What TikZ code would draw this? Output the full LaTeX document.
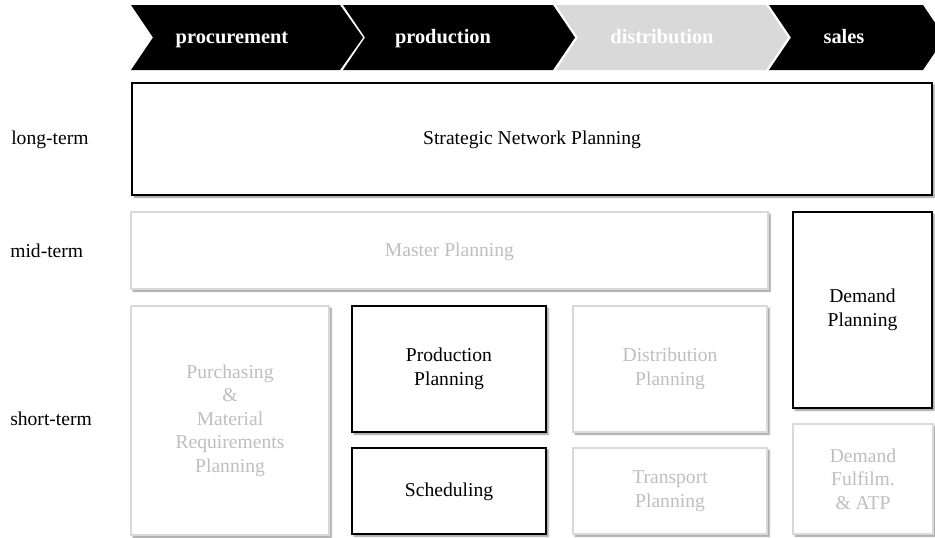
\documentclass[tikz,border=0pt]{standalone}
\usepackage{fontspec}
\setmainfont{Liberation Serif}
\usepackage{tikz}
\usetikzlibrary{shadows.blur}

\definecolor{lightline}{RGB}{217,217,217}
\definecolor{lighttext}{RGB}{191,191,191}

\begin{document}
\begin{tikzpicture}[x=0.75pt, y=-0.75pt,
        every node/.style={font=\fontsize{14.7}{17.6}\selectfont, align=center, inner sep=0pt},
        oneline/.style={text height=1.05em, text depth=0.22em},
        planbox/.style={draw=black, line width=0.9pt, fill=white, text=black,
            blur shadow={shadow xshift=1.6pt, shadow yshift=-1.6pt, shadow blur radius=1.4pt, shadow opacity=45}},
        greybox/.style={planbox, draw=lightline, line width=0.8pt, text=lighttext},
        phase/.style={oneline, text=white, font=\fontsize{15.3}{18}\selectfont\bfseries},
        termlabel/.style={oneline, anchor=west}]

            \useasboundingbox (0,0) rectangle (935,537);
            \clip (0,0) rectangle (935,537);

            \fill[black] (131,5) -- (340,5) -- (363,37.5) -- (340,70) -- (131,70) -- (153,37.5) -- cycle;
            \fill[black] (343,5) -- (553,5) -- (575,37.5) -- (553,70) -- (343,70) -- (365,37.5) -- cycle;
            \fill[lightline] (556,5) -- (766,5) -- (788,37.5) -- (766,70) -- (556,70) -- (578,37.5) -- cycle;
            \fill[black] (769,5) -- (923,5) -- (945,37.5) -- (923,70) -- (769,70) -- (791,37.5) -- cycle;

            \node[phase] (proc) at (232,37.5) {procurement};
            \node[phase] (prod) at (443,37.5) {production};
            \node[phase] (dist) at (662,37.5) {distribution};
            \node[phase] (sales) at (844,37.5) {sales};

            \node[termlabel] (long) at (11,139) {long-term};
            \node[termlabel] (mid) at (10,252) {mid-term};
            \node[termlabel] (short) at (10,420) {short-term};

            \node[planbox, oneline, minimum width=600pt, minimum height=84pt] (snp) at (532,139) {Strategic Network Planning};
            \node[greybox, oneline, minimum width=477.75pt, minimum height=57.75pt] (mp) at (449.5,250.5) {Master Planning};
            \node[planbox, minimum width=104.25pt, minimum height=147pt] (dp) at (862.5,310) {Demand\\Planning};

            \node[greybox, minimum width=148.5pt, minimum height=171.75pt] (pmrp) at (230,420.5) {Purchasing\\\&\\Material\\Requirements\\Planning};
            \node[planbox, minimum width=145.5pt, minimum height=94.5pt] (pp) at (449,369) {Production\\Planning};
            \node[planbox, oneline, minimum width=145.5pt, minimum height=64.5pt] (sched) at (449,491) {Scheduling};
            \node[greybox, minimum width=145.5pt, minimum height=94.5pt] (distp) at (670,369) {Distribution\\Planning};
            \node[greybox, minimum width=145.5pt, minimum height=64.5pt] (tp) at (670,491) {Transport\\Planning};
            \node[greybox, minimum width=105pt, minimum height=82.5pt] (dfatp) at (863,479) {Demand\\Fulfilm.\\\& ATP};

        \end{tikzpicture}
\end{document}
